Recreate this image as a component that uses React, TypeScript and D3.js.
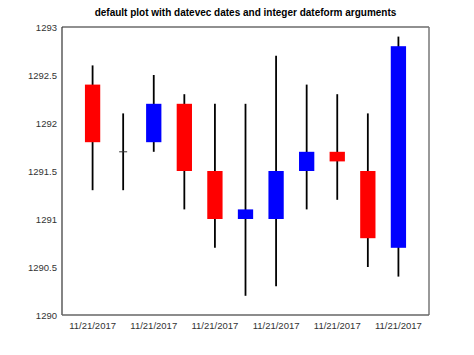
import React from "react";
import * as d3 from "d3";

const idx = [1, 2, 3, 4, 5, 6, 7, 8, 9, 10, 11];
const openV = [1292.4, 1291.7, 1291.8, 1292.2, 1291.5, 1291.0, 1291.0, 1291.5, 1291.7, 1291.5, 1290.7];
const closeV = [1291.8, 1291.7, 1292.2, 1291.5, 1291.0, 1291.1, 1291.5, 1291.7, 1291.6, 1290.8, 1292.8];
const highV = [1292.6, 1292.1, 1292.5, 1292.3, 1292.2, 1292.2, 1292.7, 1292.4, 1292.3, 1292.1, 1292.9];
const lowV = [1291.3, 1291.3, 1291.7, 1291.1, 1290.7, 1290.2, 1290.3, 1291.1, 1291.2, 1290.5, 1290.4];
const xTicks = [1, 3, 5, 7, 9, 11];
const xTickLabel = "11/21/2017";
const yTicks = [1290, 1290.5, 1291, 1291.5, 1292, 1292.5, 1293];
const title = "default plot with datevec dates and integer dateform arguments";

export default function App() {
  const W = 474, H = 355;
  const L = 62, R = 429, T = 27, B = 315;
  const x = d3.scaleLinear().domain([0, 12]).range([L, R]);
  const y = d3.scaleLinear().domain([1290, 1293]).range([B, T]);
  const bw = (x(1) - x(0)) * 0.5;
  const font = "'Liberation Sans', Arial, sans-serif";
  return (
    <svg width={W} height={H} style={{ position: "absolute", left: 0, top: 0, background: "#fff" }}>
      <rect x={0} y={0} width={W} height={H} fill="#fff" />
      <text x={(L + R) / 2} y={16} textAnchor="middle" fontFamily={font} fontWeight="bold" fontSize={10} fill="#000">
        {title}
      </text>
      {idx.map((d, i) => {
        const o = openV[i], c = closeV[i];
        const cx = x(d);
        const col = c > o ? "#0000ff" : c < o ? "#ff0000" : null;
        return (
          <g key={i}>
            <line x1={cx} x2={cx} y1={y(highV[i])} y2={y(lowV[i])} stroke="#000" strokeWidth={1.8} />
            {col ? (
              <rect x={cx - bw / 2} width={bw} y={y(Math.max(o, c))} height={Math.abs(y(o) - y(c))} fill={col} />
            ) : (
              <line x1={cx - 4} x2={cx + 4} y1={y(o)} y2={y(o)} stroke="#333" strokeWidth={1} />
            )}
          </g>
        );
      })}
      <line x1={L} x2={R} y1={T} y2={T} stroke="#222" strokeWidth={1.2} />
      <line x1={L} x2={L} y1={T} y2={B} stroke="#333" strokeWidth={1.2} />
      <line x1={R} x2={R} y1={T} y2={B} stroke="#777" strokeWidth={1.5} />
      <line x1={L} x2={R} y1={B} y2={B} stroke="#666" strokeWidth={1.5} />
      {yTicks.map((t) => (
        <text key={t} x={57} y={y(t) + 3.5} textAnchor="end" fontFamily={font} fontSize={9.5} fill="#333">
          {t}
        </text>
      ))}
      {xTicks.map((t) => (
        <text key={t} x={x(t)} y={329} textAnchor="middle" fontFamily={font} fontSize={9.5} fill="#333">
          {xTickLabel}
        </text>
      ))}
    </svg>
  );
}
